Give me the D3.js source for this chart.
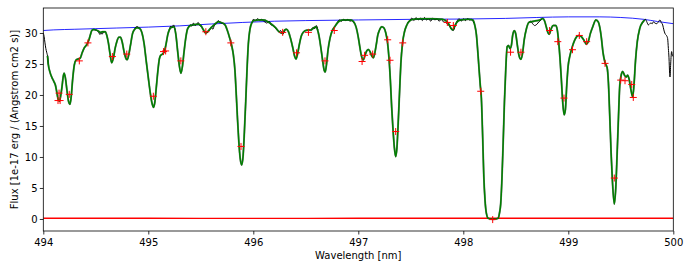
<!DOCTYPE html>
<html><head><meta charset="utf-8">
<script src="https://cdn.jsdelivr.net/npm/d3@7"></script>
<style>html,body{margin:0;padding:0;background:#fff;}svg{display:block;}</style>
</head><body>
<script>
// ---------- DATA ----------
const xTicks = [494, 495, 496, 497, 498, 499, 500];
const yTicks = [0, 5, 10, 15, 20, 25, 30];
const xLabel = "Wavelength [nm]";
const yLabel = "Flux [1e-17 erg / (Angstrom cm2 s)]";

// model fit (green)  [wavelength nm, flux]
const modelFit = [
[494.040,26.3],[494.048,24.9],[494.065,23.6],[494.080,22.9],[494.100,22.2],[494.115,21.6],[494.127,20.6],[494.140,19.4],[494.153,19.0],[494.165,19.8],[494.178,21.3],[494.190,23.0],[494.198,23.5],[494.210,22.8],[494.225,20.8],[494.240,19.0],[494.254,18.5],[494.265,19.6],[494.280,22.6],[494.295,24.8],[494.310,25.6],[494.330,25.8],[494.350,25.9],[494.370,26.8],[494.390,27.6],[494.413,28.1],[494.435,28.9],[494.450,29.8],[494.462,30.4],[494.480,30.55],[494.500,30.5],[494.525,30.3],[494.545,30.1],[494.565,30.2],[494.590,30.2],[494.605,29.6],[494.620,28.4],[494.635,26.7],[494.651,25.2],[494.668,26.0],[494.685,27.6],[494.700,28.6],[494.720,29.3],[494.735,29.3],[494.752,28.5],[494.770,26.9],[494.790,25.8],[494.800,25.7],[494.815,26.6],[494.830,28.0],[494.850,29.9],[494.870,30.6],[494.895,30.85],[494.920,30.7],[494.940,30.0],[494.960,28.3],[494.980,25.5],[495.000,22.8],[495.020,20.2],[495.035,18.7],[495.050,18.0],[495.062,18.8],[495.075,21.0],[495.090,23.7],[495.105,25.8],[495.118,26.4],[495.135,26.6],[495.155,27.1],[495.170,28.3],[495.185,29.7],[495.200,30.5],[495.220,30.9],[495.245,31.0],[495.262,29.8],[495.280,27.0],[495.295,24.8],[495.311,23.5],[495.325,24.6],[495.340,26.9],[495.356,29.1],[495.375,30.7],[495.400,31.2],[495.440,31.35],[495.476,31.4],[495.500,31.2],[495.525,30.5],[495.546,30.0],[495.565,30.2],[495.590,30.7],[495.620,31.2],[495.645,31.6],[495.667,31.8],[495.690,31.7],[495.714,31.55],[495.735,31.2],[495.755,30.3],[495.775,29.2],[495.795,27.9],[495.810,26.5],[495.825,24.0],[495.838,20.0],[495.850,16.0],[495.862,12.5],[495.875,9.8],[495.890,8.7],[495.903,10.2],[495.915,14.0],[495.928,19.0],[495.940,24.0],[495.953,28.3],[495.968,30.6],[495.985,31.6],[496.005,32.0],[496.050,32.1],[496.100,32.1],[496.140,31.8],[496.175,31.4],[496.210,30.9],[496.245,30.2],[496.277,29.95],[496.300,30.5],[496.315,30.6],[496.335,30.2],[496.355,29.1],[496.375,27.7],[496.393,26.3],[496.407,25.8],[496.420,26.5],[496.438,28.1],[496.455,29.4],[496.475,30.1],[496.508,30.45],[496.550,30.5],[496.575,30.8],[496.594,31.0],[496.610,30.6],[496.625,29.6],[496.642,27.8],[496.660,25.6],[496.675,24.0],[496.685,23.7],[496.697,24.9],[496.712,27.3],[496.730,29.1],[496.750,30.3],[496.775,31.0],[496.810,31.8],[496.850,32.1],[496.930,32.1],[496.960,31.7],[496.980,30.9],[497.000,29.3],[497.015,27.7],[497.030,26.3],[497.048,25.65],[497.062,26.3],[497.080,27.1],[497.096,27.35],[497.112,27.0],[497.128,26.3],[497.143,26.0],[497.155,26.6],[497.170,28.0],[497.185,29.6],[497.200,30.4],[497.225,31.0],[497.245,30.8],[497.262,30.0],[497.278,28.5],[497.292,26.0],[497.305,22.5],[497.318,18.0],[497.330,14.6],[497.343,11.6],[497.356,10.05],[497.368,11.5],[497.380,15.5],[497.393,20.5],[497.405,25.0],[497.420,28.2],[497.440,30.2],[497.460,31.2],[497.485,31.9],[497.525,32.2],[497.600,32.3],[497.700,32.3],[497.800,32.2],[497.840,31.9],[497.867,31.3],[497.885,30.7],[497.900,30.5],[497.915,31.0],[497.937,31.7],[497.970,32.1],[498.050,32.2],[498.090,32.1],[498.110,31.2],[498.125,29.7],[498.138,27.0],[498.150,24.2],[498.162,21.5],[498.172,19.5],[498.184,13.5],[498.195,7.0],[498.207,3.0],[498.220,0.9],[498.238,0.1],[498.286,-0.05],[498.330,0.1],[498.345,1.0],[498.356,2.4],[498.368,6.5],[498.380,12.5],[498.392,19.0],[498.404,24.0],[498.418,27.8],[498.430,28.0],[498.445,27.5],[498.458,28.0],[498.470,29.6],[498.486,30.35],[498.500,29.8],[498.515,28.0],[498.530,26.4],[498.549,25.75],[498.565,26.8],[498.580,28.9],[498.600,30.6],[498.625,31.7],[498.670,31.9],[498.730,32.1],[498.756,32.35],[498.775,31.9],[498.790,31.0],[498.805,30.1],[498.819,29.8],[498.835,30.6],[498.855,31.2],[498.880,31.2],[498.895,30.5],[498.908,28.6],[498.921,25.9],[498.935,22.2],[498.947,18.8],[498.960,16.8],[498.972,17.6],[498.985,21.5],[498.998,24.6],[499.015,26.3],[499.035,27.6],[499.060,28.8],[499.080,29.4],[499.100,29.6],[499.125,29.4],[499.150,28.8],[499.172,28.2],[499.190,28.6],[499.210,29.9],[499.235,31.1],[499.262,32.1],[499.285,31.8],[499.300,30.9],[499.315,29.2],[499.330,26.9],[499.350,25.2],[499.370,24.4],[499.382,22.0],[499.395,16.5],[499.408,10.5],[499.420,6.2],[499.438,2.4],[499.452,5.0],[499.465,10.5],[499.478,16.5],[499.490,21.5],[499.505,23.3],[499.518,23.8],[499.535,23.2],[499.552,22.9],[499.565,23.2],[499.580,22.5],[499.595,21.0],[499.613,19.7],[499.625,21.5],[499.640,25.5],[499.657,28.6],[499.680,30.7],[499.710,31.8],[499.730,32.1]
];

// observed spectrum (black) where it departs from the fit
const observedLeft = [[494.000,30.0],[494.008,29.4],[494.016,28.4],[494.024,27.5],[494.032,26.9],[494.040,26.3],[494.048,24.9]];
const observedNoise = [
 [[494.49,30.5],[494.51,30.4],[494.525,30.2],[494.54,29.75],[494.55,30.0],[494.56,29.8],[494.575,30.2],[494.59,30.2]],
 [[494.87,30.6],[494.885,31.0],[494.90,31.0],[494.915,30.7]],
 [[495.20,30.5],[495.215,31.1],[495.225,30.8],[495.24,31.3],[495.255,30.5]],
 [[495.38,30.8],[495.40,31.3],[495.415,31.1],[495.43,31.6],[495.445,31.2],[495.46,31.4],[495.475,31.7],[495.49,31.2],[495.505,31.1]],
 [[495.56,30.0],[495.58,30.4],[495.60,30.9],[495.615,30.6],[495.63,31.3],[495.655,31.6],[495.665,32.0],[495.68,31.8],[495.70,31.6],[495.72,31.5]],
 [[495.99,31.7],[496.00,32.2],[496.02,32.0],[496.04,32.3],[496.06,32.1],[496.08,32.2],[496.10,31.9],[496.13,31.6],[496.15,31.9],[496.17,31.3],[496.19,31.2],[496.22,30.6],[496.245,30.2],[496.26,30.4],[496.28,29.8],[496.30,30.4]],
 [[496.55,30.4],[496.57,30.9],[496.585,30.7],[496.60,31.2],[496.615,30.5]],
 [[496.80,31.6],[496.82,32.1],[496.84,31.9],[496.86,32.2],[496.88,32.0],[496.90,32.2],[496.92,31.9],[496.94,32.0],[496.96,31.6]],
 [[497.47,31.6],[497.49,32.0],[497.51,32.4],[497.53,32.0],[497.55,32.5],[497.57,32.1],[497.59,32.4],[497.61,32.0],[497.63,32.5],[497.65,32.1],[497.67,32.3],[497.69,31.9],[497.71,32.4],[497.73,32.1],[497.75,32.3],[497.77,31.9],[497.79,32.2],[497.81,31.8],[497.83,31.7],[497.85,31.4],[497.87,31.1],[497.89,30.6],[497.905,30.4],[497.92,31.0],[497.94,31.9],[497.96,32.3],[497.98,31.9],[498.0,32.3],[498.02,32.0],[498.04,32.3],[498.06,32.1],[498.08,32.2],[498.10,31.6]],
 [[498.62,31.6],[498.64,31.9],[498.66,31.5],[498.68,31.2],[498.70,31.4],[498.72,31.8],[498.74,32.1],[498.76,32.4]]
];
const observedRight = [[499.70,31.5],[499.72,31.9],[499.735,32.2],[499.75,31.7],[499.762,31.3],[499.775,31.5],[499.788,31.6],[499.80,31.5],[499.81,31.8],[499.825,31.6],[499.842,31.5],[499.858,31.8],[499.873,32.1],[499.885,31.7],[499.899,31.3],[499.91,30.5],[499.921,29.9],[499.935,29.6],[499.946,29.1],[499.953,27.5],[499.959,26.0],[499.965,23.5],[499.969,22.9],[499.975,25.0],[499.984,27.0],[499.992,26.3],[500.0,26.2]];

// continuum (blue)
const continuum = [[494.0,30.4],[494.1,30.5],[494.3,30.6],[494.5,30.7],[494.7,30.8],[495.0,30.95],[495.3,31.15],[495.6,31.45],[495.9,31.7],[496.2,31.9],[496.5,32.0],[497.0,32.1],[497.5,32.2],[498.0,32.25],[498.4,32.35],[498.7,32.5],[499.0,32.6],[499.3,32.6],[499.5,32.5],[499.72,32.2],[499.85,31.85],[500.0,31.5]];

// error spectrum (red)
const errorSpec = [[494.0,0.12],[495.0,0.12],[496.0,0.1],[497.0,0.12],[498.0,0.12],[499.0,0.12],[500.0,0.12]];

// line markers (red +)
const lineMarks = [[494.140,19.1],[494.160,19.1],[494.150,20.3],[494.247,20.1],[494.343,25.5],[494.425,28.4],[494.658,26.2],[494.795,26.6],[495.048,19.8],[495.145,27.0],[495.165,27.1],[495.310,25.5],[495.548,30.2],[495.786,28.4],[495.883,11.7],[496.280,30.1],[496.412,26.8],[496.525,30.1],[496.683,25.5],[496.771,30.4],[497.036,25.4],[497.060,26.4],[497.137,26.6],[497.280,28.9],[497.302,25.6],[497.356,14.1],[497.423,28.4],[497.848,31.7],[497.905,31.2],[498.166,20.6],[498.280,-0.1],[498.450,26.9],[498.549,26.9],[498.822,30.4],[498.900,28.6],[498.959,19.5],[499.040,27.3],[499.105,29.6],[499.175,28.6],[499.350,25.1],[499.438,6.6],[499.499,22.4],[499.540,22.3],[499.604,21.7],[499.619,19.6]];

// ---------- CHART ----------
const W = 690, H = 262;
const pLeft = 43.3, pRight = 673.3, pTop = 8, pBottom = 231;
const font = "'DejaVu Sans', sans-serif";

const svg = d3.select("body").append("svg").attr("width", W).attr("height", H);

const x = d3.scaleLinear().domain([494, 500]).range([pLeft, pRight]);
const y = d3.scaleLinear().domain([-1.94, 34.03]).range([pBottom, pTop]);

svg.append("clipPath").attr("id", "clip").append("rect")
  .attr("x", pLeft).attr("y", pTop).attr("width", pRight - pLeft).attr("height", pBottom - pTop);

const g = svg.append("g").attr("clip-path", "url(#clip)");
const line = d3.line().x(d => x(d[0])).y(d => y(d[1])).curve(d3.curveMonotoneX);

g.append("path").datum(errorSpec).attr("d", line)
  .attr("fill", "none").attr("stroke", "#ff0000").attr("stroke-width", 1.3);

g.append("path").datum(continuum).attr("d", line)
  .attr("fill", "none").attr("stroke", "#0000ff").attr("stroke-width", 1).attr("opacity", 0.85);

[observedLeft, ...observedNoise, observedRight].forEach(seg => {
  g.append("path").datum(seg).attr("d", line)
    .attr("fill", "none").attr("stroke", "#000").attr("stroke-width", 1);
});

g.append("path").datum(modelFit).attr("d", line)
  .attr("fill", "none").attr("stroke", "#000").attr("stroke-width", 1.9).attr("opacity", 0.5);
g.append("path").datum(modelFit).attr("d", line)
  .attr("fill", "none").attr("stroke", "#008000").attr("stroke-width", 1.5);

const arm = 3.5;
g.selectAll("path.mark").data(lineMarks).enter().append("path")
  .attr("class", "mark")
  .attr("d", d => {
    const cx = x(d[0]), cy = y(d[1]);
    return `M${cx - arm},${cy}H${cx + arm}M${cx},${cy - arm}V${cy + arm}`;
  })
  .attr("stroke", "#ff0000").attr("stroke-width", 1).attr("fill", "none");

const xAxis = d3.axisBottom(x).tickValues(xTicks).tickFormat(d3.format("d")).tickSize(3.5).tickPadding(4.3);
const yAxis = d3.axisLeft(y).tickValues(yTicks).tickFormat(d3.format("d")).tickSize(3.5).tickPadding(2.3);

const gx = svg.append("g").attr("transform", `translate(0,${pBottom})`).call(xAxis);
const gy = svg.append("g").attr("transform", `translate(${pLeft},0)`).call(yAxis);
[gx, gy].forEach(a => {
  a.select(".domain").remove();
  a.selectAll("text").attr("font-family", font).attr("font-size", 10).attr("fill", "#000");
  a.selectAll("line").attr("stroke", "#000").attr("stroke-width", 0.8);
});

svg.append("rect").attr("x", pLeft).attr("y", pTop).attr("width", pRight - pLeft).attr("height", pBottom - pTop)
  .attr("fill", "none").attr("stroke", "#000").attr("stroke-width", 0.8);

svg.append("text").attr("x", (pLeft + pRight) / 2).attr("y", 258.5)
  .attr("text-anchor", "middle").attr("font-family", font).attr("font-size", 10).text(xLabel);
svg.append("text").attr("transform", `translate(18.3,${(pTop + pBottom) / 2}) rotate(-90)`)
  .attr("text-anchor", "middle").attr("font-family", font).attr("font-size", 10).text(yLabel);
</script>
</body></html>
